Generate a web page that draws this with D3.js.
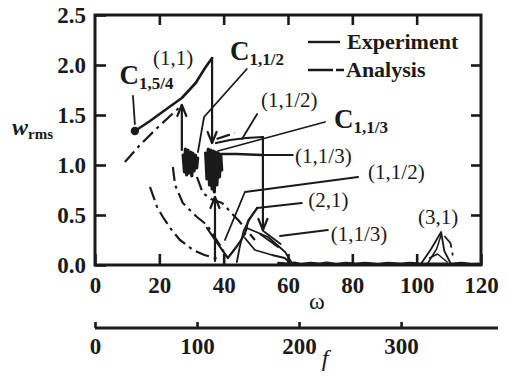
<!DOCTYPE html>
<html>
<head>
<meta charset="utf-8">
<script src="https://cdn.jsdelivr.net/npm/d3@7"></script>
<style>
  html, body { margin: 0; padding: 0; background: #fff; }
  svg { display: block; }
  text { font-family: "Liberation Serif", "Times New Roman", serif; fill: #1a1a1a; }
</style>
</head>
<body>
<svg id="chart" width="509" height="376"></svg>
<script>
// ---- axis ticks ----
const omegaTicks = [0, 20, 40, 60, 80, 100, 120];
const wTicks = [0, 0.5, 1.0, 1.5, 2.0, 2.5];
const fTicks = [0, 100, 200, 300];

// ---- measured responses (omega, w_rms) : solid lines ----
const expMain11 = [[12.4, 1.34], [17.1, 1.44], [21.8, 1.55], [27.0, 1.67], [31.3, 1.82], [34.2, 1.97], [36.4, 2.07]];
const expDrop11 = [[36.4, 2.07], [36.4, 1.22]];
const expJumpA = [[27.0, 1.15], [27.0, 1.60]];
const expJumpB = [[37.3, 0.04], [37.3, 0.68]];
const expDropHalf = [[52.2, 1.28], [52.2, 0.35]];
const expBlob1 = [[27.4, 1.10], [27.8, 0.93], [28.1, 1.16], [28.5, 0.90], [28.9, 1.15], [29.3, 0.92], [29.7, 1.13],
  [30.1, 0.89], [30.4, 1.12], [30.8, 0.94], [31.2, 1.10], [31.6, 0.97], [31.9, 1.07]];
const expBlob2 = [[34.4, 1.12], [34.8, 0.86], [35.2, 1.16], [35.6, 0.80], [36.0, 1.15], [36.4, 0.76], [36.8, 1.14],
  [37.1, 0.73], [37.5, 1.13], [37.9, 0.80], [38.3, 1.12], [38.7, 0.88], [39.1, 1.10], [39.4, 0.95]];
const expHalfUpper = [[37.6, 1.22], [42.0, 1.25], [47.0, 1.27], [52.2, 1.28]];
const expThirdUpper = [[38.8, 1.11], [44.0, 1.11], [51.9, 1.10]];
const expV = [[34.8, 0.37], [38.0, 0.22], [41.3, 0.07], [44.4, 0.20], [46.6, 0.31]];
const exp21 = [[46.6, 0.31], [47.6, 0.44], [50.4, 0.57]];
const exp21Loop = [[48.2, 0.47], [46.2, 0.34], [45.0, 0.18], [44.1, 0.03]];
const expThirdLowA = [[47.2, 0.37], [53.8, 0.28], [59.1, 0.13], [61.2, 0.02]];
const expThirdLowB = [[46.6, 0.27], [49.7, 0.15], [55.0, 0.10], [59.0, 0.07], [60.6, 0.02]];
const expTwinA = [[51.3, 0.31], [56.9, 0.18]];
const expTwinB = [[52.3, 0.34], [57.7, 0.21]];
const expFloor = [[57, 0.02], [60, 0.012], [62, 0.022], [64, 0.01], [67, 0.02], [70, 0.012], [72, 0.022], [75, 0.01],
  [78, 0.02], [81, 0.012], [84, 0.02], [88, 0.01], [91, 0.02], [95, 0.012], [98, 0.02], [101, 0.012],
  [111, 0.012], [114, 0.02], [117, 0.01], [120, 0.012]];
const exp31Outer = [[101.5, 0.02], [104.5, 0.16], [107.6, 0.33], [108.6, 0.14], [110.5, 0.02]];
const exp31InnerA = [[103.5, 0.02], [106.2, 0.16], [107.6, 0.30]];
const exp31InnerB = [[104.0, 0.07], [106.5, 0.11], [109.5, 0.03]];
const startPoint = [12.4, 1.34];

// ---- computed responses : dash-dot lines ----
const ana11 = [[9.3, 1.03], [14.0, 1.20], [19.0, 1.36], [24.0, 1.51], [26.4, 1.58]];
const anaA = [[17.1, 0.78], [19.3, 0.58], [21.1, 0.48], [23.6, 0.36], [26.4, 0.25], [30.5, 0.15], [34.0, 0.10], [37.3, 0.07], [39.0, 0.06]];
const anaB = [[24.2, 0.98], [24.9, 0.80], [27.3, 0.62], [31.7, 0.48], [34.8, 0.40], [38.2, 0.23], [40.0, 0.14]];
const anaC = [[31.7, 0.88], [33.5, 0.72], [36.0, 0.66], [39.5, 0.62], [44.5, 0.45], [49.7, 0.25]];
const anaHalf = [[37.8, 1.26], [43.5, 1.32]];
const ana31 = [[108.6, 0.29], [110.5, 0.22], [111.5, 0.05]];

const svg = d3.select("#chart");
const x = d3.scaleLinear().domain([0, 120]).range([95, 481]);
const y = d3.scaleLinear().domain([0, 2.5]).range([265, 15]);
const fScale = d3.scaleLinear().domain([0, 395]).range([95, 498]);
const line = d3.line().x(d => x(d[0])).y(d => y(d[1]));
const ink = "#1a1a1a";
const DASHDOT = "14,5,3,5";

// ---- frame and axes ----
svg.append("rect")
  .attr("x", x(0)).attr("y", y(2.5))
  .attr("width", x(120) - x(0)).attr("height", y(0) - y(2.5))
  .attr("fill", "none").attr("stroke", ink).attr("stroke-width", 3);

function styleAxis(g) {
  g.select(".domain").remove();
  g.selectAll(".tick line").attr("stroke", ink).attr("stroke-width", 2.6);
  g.selectAll(".tick text").attr("fill", ink)
    .style("font-size", "23px").style("font-weight", "bold");
}

svg.append("g").attr("transform", `translate(0,${y(0)})`)
  .call(d3.axisBottom(x).tickValues(omegaTicks).tickSizeInner(-11).tickSizeOuter(0).tickPadding(12))
  .call(styleAxis);
svg.append("g").attr("transform", `translate(${x(0)},0)`)
  .call(d3.axisLeft(y).tickValues(wTicks).tickFormat(d3.format(".1f")).tickSizeInner(-11).tickSizeOuter(0).tickPadding(9))
  .call(styleAxis);
svg.append("g").attr("transform", `translate(0,${y(2.5)})`)
  .call(d3.axisTop(x).tickValues(omegaTicks.slice(1, -1)).tickSizeInner(-10).tickSizeOuter(0).tickFormat(""))
  .call(styleAxis);
svg.append("g").attr("transform", `translate(${x(120)},0)`)
  .call(d3.axisRight(y).tickValues(wTicks.slice(1, -1)).tickSizeInner(-10).tickSizeOuter(0).tickFormat(""))
  .call(styleAxis);

// secondary frequency axis
const fAxis = svg.append("g").attr("transform", "translate(0,328)")
  .call(d3.axisBottom(fScale).tickValues(fTicks).tickSizeInner(-6).tickSizeOuter(0).tickPadding(10))
  .call(styleAxis);
fAxis.append("line").attr("x1", fScale(0)).attr("x2", fScale(395))
  .attr("stroke", ink).attr("stroke-width", 3);

// axis titles
svg.append("text").attr("x", 317).attr("y", 309).attr("text-anchor", "middle")
  .style("font-size", "24px").text("ω");
svg.append("text").attr("x", 325).attr("y", 366).attr("text-anchor", "middle")
  .style("font-size", "24px").style("font-style", "italic").text("f");
const wl = svg.append("text").attr("x", 12).attr("y", 135)
  .style("font-size", "24px").style("font-style", "italic").style("font-weight", "bold");
wl.append("tspan").text("w");
wl.append("tspan").attr("dy", 4).style("font-size", "15px").style("font-style", "normal").text("rms");

// ---- curves ----
const curves = svg.append("g").attr("fill", "none").attr("stroke", ink)
  .attr("stroke-linejoin", "round").attr("stroke-linecap", "round");

function solid(data, w = 2.2) {
  curves.append("path").datum(data).attr("d", line).attr("stroke-width", w);
}
function dashdot(data, w = 2.2) {
  curves.append("path").datum(data).attr("d", line).attr("stroke-width", w)
    .attr("stroke-dasharray", DASHDOT).attr("stroke-linecap", "butt");
}
function arrowHead(pt, dir) {
  // dir = -1 arrow points up, +1 points down
  const tx = x(pt[0]), ty = y(pt[1]);
  curves.append("path")
    .attr("d", `M${tx - 4.5},${ty - dir * 11}L${tx},${ty}L${tx + 4.5},${ty - dir * 11}`)
    .attr("stroke-width", 2.2);
}

// computed
dashdot(ana11);
dashdot(anaA);
dashdot(anaB);
dashdot(anaC);
dashdot(anaHalf);
dashdot(ana31, 1.8);

// measured
solid(expMain11, 2.6);
solid(expDrop11);
arrowHead(expDrop11[1], 1);
solid(expJumpA);
arrowHead(expJumpA[1], -1);
solid(expJumpB);
arrowHead(expJumpB[1], -1);
solid(expBlob1, 3.2);
solid(expBlob2, 3.2);
solid(expHalfUpper);
solid(expThirdUpper, 2.6);
solid(expDropHalf);
arrowHead(expDropHalf[1], 1);
solid(expV);
solid(exp21);
solid(exp21Loop, 1.8);
solid(expThirdLowA, 1.8);
solid(expThirdLowB, 1.8);
solid(expTwinA, 1.8);
solid(expTwinB, 1.8);
solid(expFloor, 2.4);
solid(exp31Outer, 1.8);
solid(exp31InnerA, 1.5);
solid(exp31InnerB, 1.5);

svg.append("circle").attr("cx", x(startPoint[0])).attr("cy", y(startPoint[1]))
  .attr("r", 4.2).attr("fill", ink);

// ---- leader lines and labels ----
const leaders = [
  [[11.8, 1.69], [12.4, 1.41]],
  [[47.2, 1.96], [33.9, 1.48], [32.0, 1.13]],
  [[45.7, 1.26], [50.4, 1.51]],
  [[38.2, 1.14], [71.5, 1.43]],
  [[51.9, 1.10], [61.5, 1.10]],
  [[40.4, 0.25], [46.6, 0.73], [81.8, 0.88]],
  [[50.4, 0.57], [64.3, 0.62]],
  [[57.5, 0.29], [72.4, 0.35]]
];
leaders.forEach(d => curves.append("path").datum(d).attr("d", line).attr("stroke-width", 1.8));

const labels = svg.append("g").style("font-size", "21px");
function label(wx, wy, txt) {
  labels.append("text").attr("x", x(wx)).attr("y", y(wy)).text(txt);
}
label(18.0, 2.00, "(1,1)");
label(51.6, 1.58, "(1,1/2)");
label(62.2, 1.02, "(1,1/3)");
label(84.9, 0.86, "(1,1/2)");
label(66.3, 0.58, "(2,1)");
label(73.3, 0.24, "(1,1/3)");
label(100.4, 0.41, "(3,1)");

function cLabel(wx, wy, sub) {
  const t = svg.append("text").attr("x", x(wx)).attr("y", y(wy))
    .style("font-weight", "bold").style("font-size", "27px");
  t.append("tspan").text("C");
  t.append("tspan").attr("dy", 5).style("font-size", "17px").text(sub);
}
cLabel(7.6, 1.81, "1,5/4");
cLabel(42.0, 2.05, "1,1/2");
cLabel(74.3, 1.37, "1,1/3");

// ---- legend ----
const lg = svg.append("g");
lg.append("line").attr("x1", 308).attr("x2", 340).attr("y1", 42).attr("y2", 42)
  .attr("stroke", ink).attr("stroke-width", 2.4);
lg.append("line").attr("x1", 308).attr("x2", 345).attr("y1", 70).attr("y2", 70)
  .attr("stroke", ink).attr("stroke-width", 2.4).attr("stroke-dasharray", "25,3,8,20");
lg.append("text").attr("x", 347).attr("y", 49).style("font-size", "22px").style("font-weight", "bold").text("Experiment");
lg.append("text").attr("x", 346).attr("y", 77).style("font-size", "22px").style("font-weight", "bold").text("Analysis");
</script>
</body>
</html>
